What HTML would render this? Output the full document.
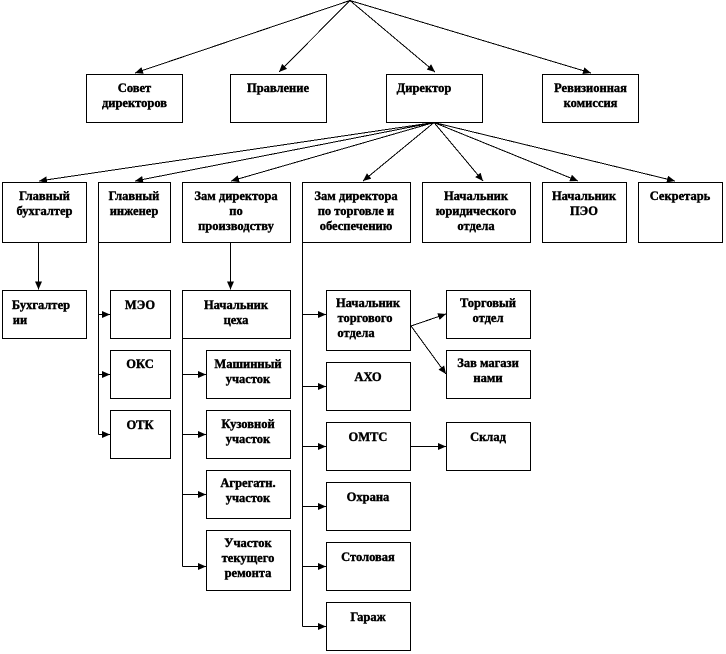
<!DOCTYPE html>
<html><head><meta charset="utf-8"><style>
html,body{margin:0;padding:0;background:#fff}
svg{display:block}
text{font-family:"Liberation Serif","Noto Serif CJK SC",serif;font-weight:bold;font-size:12.5px;fill:#000;stroke:#000;stroke-width:.4px;text-anchor:middle}
rect{fill:#fff;stroke:#000;stroke-width:1;shape-rendering:crispEdges}
line,polyline{stroke:#000;stroke-width:1;fill:none;shape-rendering:crispEdges}
polygon{fill:#000}
</style></head><body>
<svg width="726" height="654" viewBox="0 0 726 654" xmlns="http://www.w3.org/2000/svg">
<defs><marker id="a" markerUnits="userSpaceOnUse" markerWidth="10" markerHeight="8" refX="8" refY="3.5" orient="auto"><polygon points="0,0 8,3.5 0,7"/></marker></defs>
<line x1="350" y1="0.5" x2="135" y2="73" marker-end="url(#a)"/>
<line x1="350" y1="0.5" x2="279" y2="72" marker-end="url(#a)"/>
<line x1="350" y1="0.5" x2="435" y2="72" marker-end="url(#a)"/>
<line x1="350" y1="0.5" x2="591" y2="73" marker-end="url(#a)"/>
<line x1="434" y1="122.5" x2="39" y2="181" marker-end="url(#a)"/>
<line x1="434" y1="122.5" x2="135" y2="181" marker-end="url(#a)"/>
<line x1="434" y1="122.5" x2="231" y2="181" marker-end="url(#a)"/>
<line x1="434" y1="122.5" x2="363" y2="181" marker-end="url(#a)"/>
<line x1="434" y1="122.5" x2="483" y2="181" marker-end="url(#a)"/>
<line x1="434" y1="122.5" x2="578" y2="181" marker-end="url(#a)"/>
<line x1="434" y1="122.5" x2="675" y2="181" marker-end="url(#a)"/>
<line x1="38.5" y1="242" x2="38.5" y2="289.5" marker-end="url(#a)"/>
<line x1="230.5" y1="242" x2="230.5" y2="289.5" marker-end="url(#a)"/>
<line x1="98.5" y1="314.5" x2="110" y2="314.5" marker-end="url(#a)"/>
<line x1="98.5" y1="374.5" x2="110" y2="374.5" marker-end="url(#a)"/>
<line x1="98.5" y1="434.5" x2="110" y2="434.5" marker-end="url(#a)"/>
<line x1="182.5" y1="374.5" x2="206" y2="374.5" marker-end="url(#a)"/>
<line x1="182.5" y1="434.5" x2="206" y2="434.5" marker-end="url(#a)"/>
<line x1="182.5" y1="494.5" x2="206" y2="494.5" marker-end="url(#a)"/>
<line x1="182.5" y1="566.5" x2="206" y2="566.5" marker-end="url(#a)"/>
<line x1="302.5" y1="314.5" x2="326" y2="314.5" marker-end="url(#a)"/>
<line x1="302.5" y1="386.5" x2="326" y2="386.5" marker-end="url(#a)"/>
<line x1="302.5" y1="446.5" x2="326" y2="446.5" marker-end="url(#a)"/>
<line x1="302.5" y1="506.5" x2="326" y2="506.5" marker-end="url(#a)"/>
<line x1="302.5" y1="566.5" x2="326" y2="566.5" marker-end="url(#a)"/>
<line x1="302.5" y1="626.5" x2="326" y2="626.5" marker-end="url(#a)"/>
<line x1="411" y1="326" x2="446" y2="314" marker-end="url(#a)"/>
<line x1="411" y1="326" x2="446" y2="374" marker-end="url(#a)"/>
<line x1="411" y1="446.5" x2="446" y2="446.5" marker-end="url(#a)"/>
<line x1="98.5" y1="242" x2="98.5" y2="434.5"/>
<line x1="182.5" y1="338" x2="182.5" y2="566.5"/>
<line x1="302.5" y1="242" x2="302.5" y2="626.5"/>

<rect x="86.5" y="74.5" width="96" height="48"/>
<rect x="230.5" y="74.5" width="96" height="48"/>
<rect x="386.5" y="74.5" width="96" height="48"/>
<rect x="542.5" y="74.5" width="96" height="48"/>
<rect x="2.5" y="182.5" width="84" height="60"/>
<rect x="98.5" y="182.5" width="72" height="60"/>
<rect x="182.5" y="182.5" width="108" height="60"/>
<rect x="302.5" y="182.5" width="108" height="60"/>
<rect x="422.5" y="182.5" width="108" height="60"/>
<rect x="542.5" y="182.5" width="84" height="60"/>
<rect x="638.5" y="182.5" width="84" height="60"/>
<rect x="2.5" y="290.5" width="84" height="48"/>
<rect x="110.5" y="290.5" width="60" height="48"/>
<rect x="110.5" y="350.5" width="60" height="48"/>
<rect x="110.5" y="410.5" width="60" height="48"/>
<rect x="182.5" y="290.5" width="108" height="48"/>
<rect x="206.5" y="350.5" width="84" height="48"/>
<rect x="206.5" y="410.5" width="84" height="48"/>
<rect x="206.5" y="470.5" width="84" height="48"/>
<rect x="206.5" y="530.5" width="84" height="60"/>
<rect x="326.5" y="290.5" width="84" height="60"/>
<rect x="326.5" y="362.5" width="84" height="48"/>
<rect x="326.5" y="422.5" width="84" height="48"/>
<rect x="326.5" y="482.5" width="84" height="48"/>
<rect x="326.5" y="542.5" width="84" height="48"/>
<rect x="326.5" y="602.5" width="84" height="48"/>
<rect x="446.5" y="290.5" width="84" height="48"/>
<rect x="446.5" y="350.5" width="84" height="48"/>
<rect x="446.5" y="422.5" width="84" height="48"/>

<text x="134.5" y="92">Совет</text><text x="134.5" y="107">директоров</text>
<text x="278" y="92">Правление</text>
<text x="424" y="92">Директор</text>
<text x="590.5" y="92">Ревизионная</text><text x="590.5" y="107">комиссия</text>
<text x="44.5" y="200">Главный</text><text x="44.5" y="215">бухгалтер</text>
<text x="134" y="200">Главный</text><text x="134" y="215">инженер</text>
<text x="236" y="200">Зам директора</text><text x="236" y="215">по</text><text x="236" y="230">производству</text>
<text x="356" y="200">Зам директора</text><text x="356" y="215">по торговле и</text><text x="356" y="230">обеспечению</text>
<text x="476" y="200">Начальник</text><text x="476" y="215">юридического</text><text x="476" y="230">отдела</text>
<text x="584" y="200">Начальник</text><text x="584" y="215">ПЭО</text>
<text x="680" y="200">Секретарь</text>
<text x="41" y="309">Бухгалтер</text><text x="20" y="324">ии</text>
<text x="140" y="309">МЭО</text>
<text x="140" y="368">ОКС</text>
<text x="140" y="429">ОТК</text>
<text x="236" y="309">Начальник</text><text x="236" y="324">цеха</text>
<text x="248" y="368">Машинный</text><text x="248" y="383">участок</text>
<text x="248" y="428">Кузовной</text><text x="248" y="443">участок</text>
<text x="248" y="487">Агрегатн.</text><text x="248" y="502">участок</text>
<text x="248" y="547">Участок</text><text x="248" y="562">текущего</text><text x="248" y="577">ремонта</text>
<text x="368" y="307">Начальник</text><text x="365" y="322">торгового</text><text x="356" y="337">отдела</text>
<text x="368" y="381">АХО</text>
<text x="368" y="441">ОМТС</text>
<text x="368" y="501">Охрана</text>
<text x="368" y="561">Столовая</text>
<text x="368" y="621">Гараж</text>
<text x="488" y="307">Торговый</text><text x="488" y="322">отдел</text>
<text x="488" y="367">Зав магази</text><text x="488" y="382">нами</text>
<text x="488" y="441">Склад</text>
</svg>
</body></html>
